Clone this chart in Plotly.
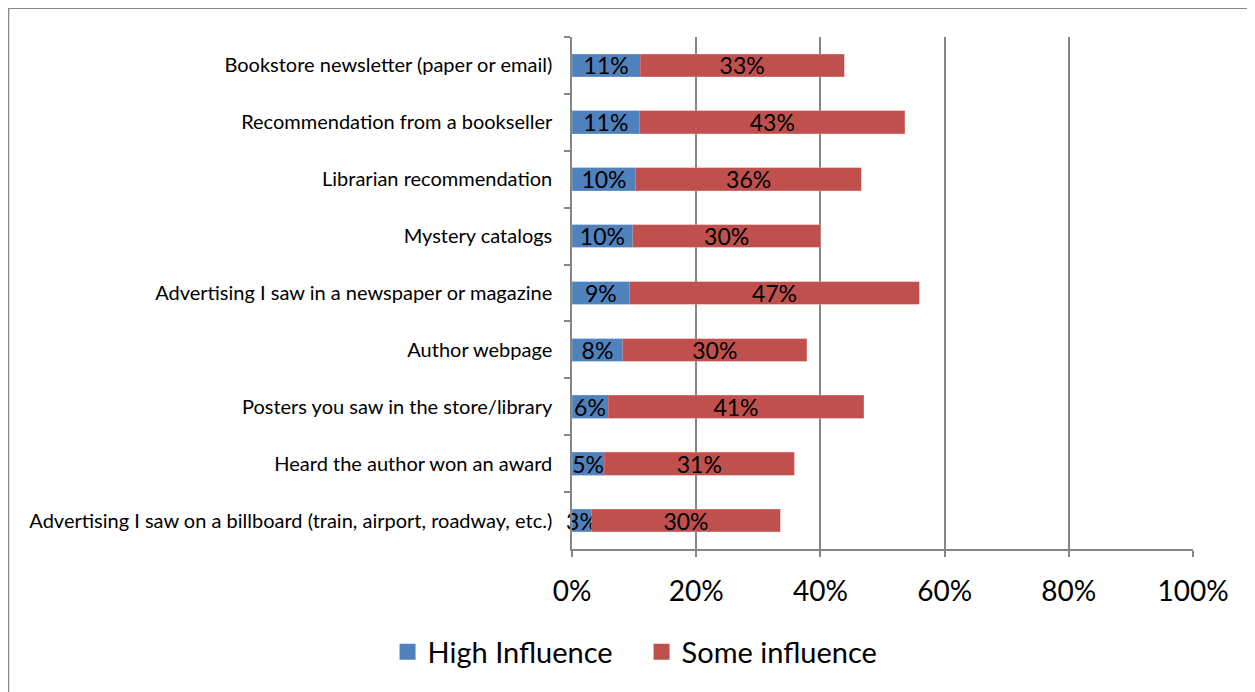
import plotly.graph_objects as go

categories = [
    "Bookstore newsletter (paper or email)",
    "Recommendation from a bookseller",
    "Librarian recommendation",
    "Mystery catalogs",
    "Advertising I saw in a newspaper or magazine",
    "Author webpage",
    "Posters you saw in the store/library",
    "Heard the author won an award",
    "Advertising I saw on a billboard (train, airport, roadway, etc.)",
]
high_influence = [11.0, 10.9, 10.3, 9.8, 9.3, 8.2, 5.8, 5.2, 3.2]
some_influence = [32.8, 42.7, 36.3, 30.2, 46.6, 29.6, 41.2, 30.6, 30.3]
x_ticks = [0, 20, 40, 60, 80, 100]
x_tick_labels = ["0%", "20%", "40%", "60%", "80%", "100%"]
series_names = ["High Influence", "Some influence"]
series_colors = ["#4F81BD", "#C0504D"]

FONT = "Lato"
GRID = "#868686"

fig = go.Figure()
for vals, name, color, edge in zip([high_influence, some_influence], series_names,
                                   series_colors, ["#7FA3D0", "#E08A88"]):
    fig.add_trace(go.Bar(
        y=categories, x=vals, orientation="h", name=name, showlegend=False,
        marker=dict(color=color, line=dict(color=edge, width=0.5)),
        texttemplate="%{x:.0f}%", textposition="inside", insidetextanchor="middle",
        textangle=0, constraintext="none", cliponaxis=False,
        textfont=dict(family=FONT, size=23, color="black"),
    ))

# legend entries with bigger square swatches
for name, color in zip(series_names, series_colors):
    fig.add_trace(go.Scatter(
        x=[None], y=[None], mode="markers", name=name,
        marker=dict(symbol="square", size=18, color=color),
    ))

fig.update_layout(
    barmode="stack",
    bargap=0.6,
    width=1247, height=684,
    margin=dict(l=564, r=62, t=29, b=143),
    paper_bgcolor="white", plot_bgcolor="white",
    font=dict(family=FONT, color="black"),
    legend=dict(
        orientation="h", x=-0.297, xanchor="left", y=-0.201, yanchor="middle",
        font=dict(family=FONT, size=29), traceorder="normal",
        itemsizing="trace", entrywidth=209,
    ),
    shapes=[dict(
        type="rect", xref="paper", yref="paper",
        x0=-563.5 / 621, x1=1.2, y0=-0.4, y1=1 + 28.8 / 512,
        line=dict(color=GRID, width=1.5), fillcolor="rgba(0,0,0,0)",
        layer="below",
    )],
)
fig.update_xaxes(
    range=[0, 100], tickvals=x_ticks, ticktext=x_tick_labels,
    showgrid=True, gridcolor=GRID, gridwidth=1.5,
    showline=True, linecolor=GRID, linewidth=1.5,
    ticks="outside", ticklen=6, tickcolor=GRID, tickwidth=1.5,
    ticklabelstandoff=11, tickfont=dict(family=FONT, size=28),
    zeroline=False, fixedrange=True,
)
fig.update_yaxes(
    autorange="reversed",
    showline=True, linecolor=GRID, linewidth=1.5,
    ticks="outside", ticklen=6, tickcolor=GRID, tickwidth=1.5,
    tickson="boundaries", ticklabelstandoff=14,
    tickfont=dict(family=FONT, size=20),
    showgrid=False, fixedrange=True,
)

fig.write_html("out.html")
